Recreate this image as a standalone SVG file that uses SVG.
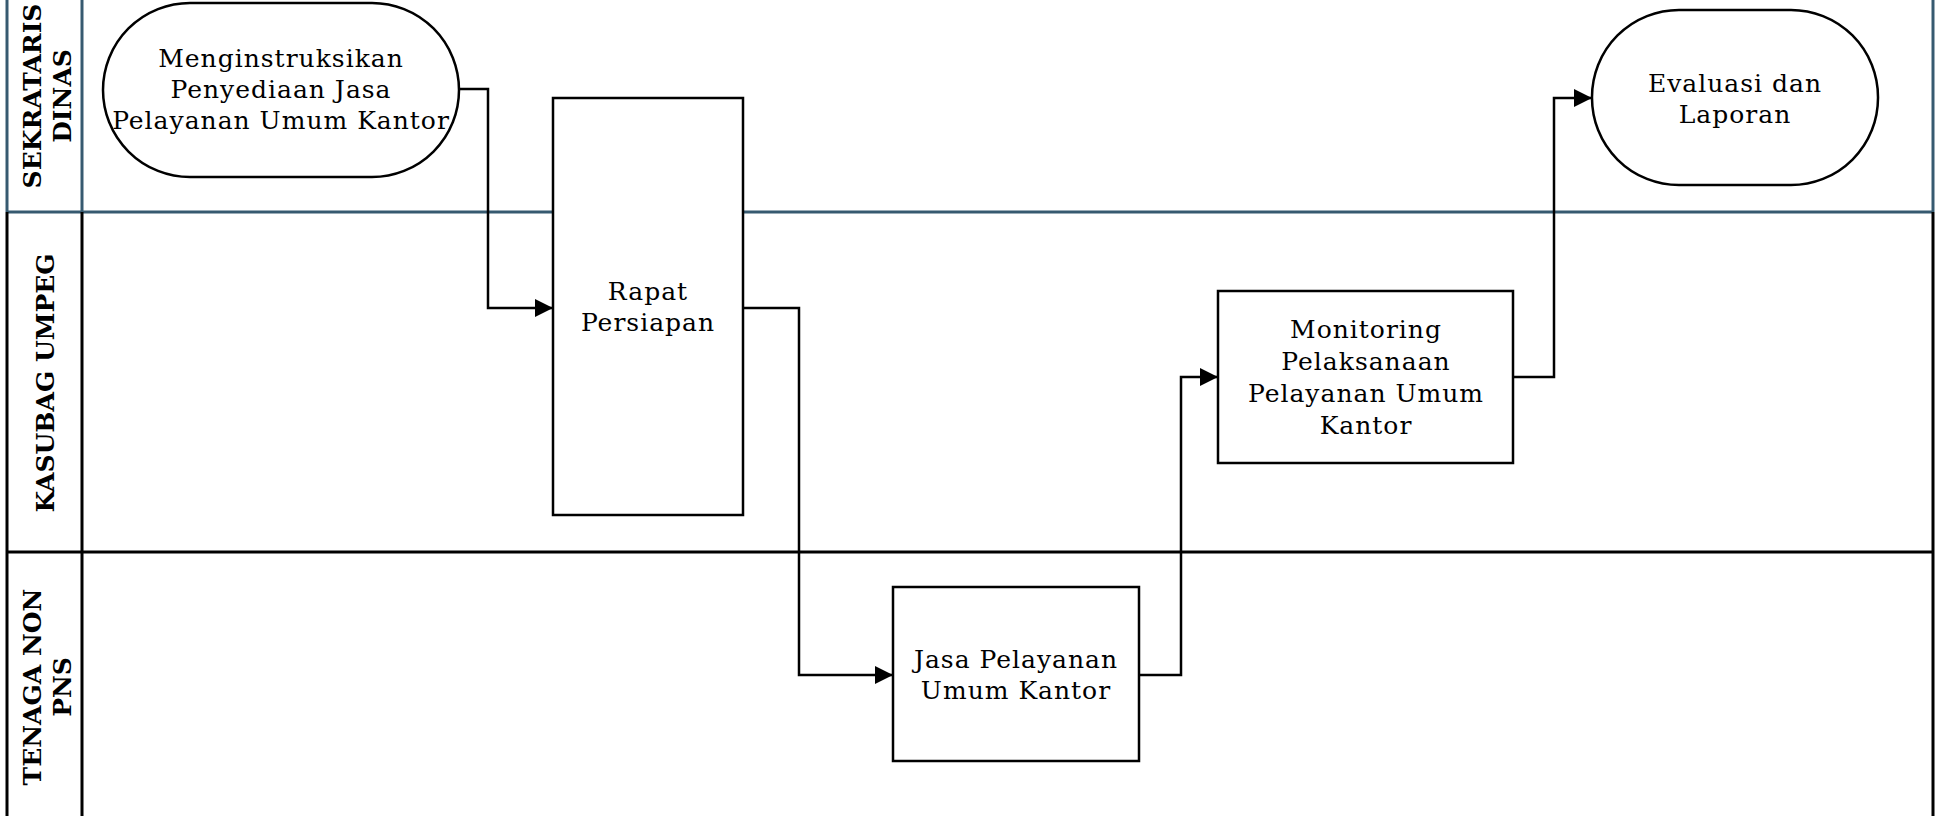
<svg xmlns="http://www.w3.org/2000/svg" width="1943" height="816" viewBox="0 0 1943 816">
<style>
.lane-b{stroke:#375a70;stroke-width:3;fill:none}
.lane-k{stroke:#000;stroke-width:3;fill:none}
.node{fill:#fff;stroke:#000;stroke-width:2.5}
.t{font-family:"DejaVu Serif","Liberation Serif",serif;font-size:25px;letter-spacing:1px;fill:#000;text-anchor:middle}
.lbl{font-family:"DejaVu Serif","Liberation Serif",serif;font-size:25px;font-weight:bold;fill:#000;text-anchor:middle}
.conn{stroke:#000;stroke-width:2.5;fill:none;marker-end:url(#ah)}
</style>
<defs>
<marker id="ah" markerWidth="18" markerHeight="18" refX="18" refY="9" orient="auto" markerUnits="userSpaceOnUse">
<path d="M0,0 L18,9 L0,18 Z" fill="#000"/>
</marker>
</defs>
<rect width="1943" height="816" fill="#fff"/>
<g id="lanes">
<line class="lane-b" x1="7" y1="0" x2="7" y2="212"/>
<line class="lane-b" x1="82" y1="0" x2="82" y2="212"/>
<line class="lane-b" x1="1933" y1="0" x2="1933" y2="212"/>
<line class="lane-b" x1="7" y1="212" x2="1933" y2="212"/>
<line class="lane-k" x1="7" y1="212" x2="7" y2="816"/>
<line class="lane-k" x1="82" y1="212" x2="82" y2="816"/>
<line class="lane-k" x1="1933" y1="212" x2="1933" y2="816"/>
<line class="lane-k" x1="7" y1="552" x2="1933" y2="552"/>
</g>
<g id="lane-labels">
<g transform="translate(45,96) rotate(-90)">
<text class="lbl" x="0" y="-4">SEKRATARIS</text>
<text class="lbl" x="0" y="26">DINAS</text>
</g>
<g transform="translate(45,383) rotate(-90)">
<text class="lbl" x="0" y="9">KASUBAG UMPEG</text>
</g>
<g transform="translate(45,687) rotate(-90)">
<text class="lbl" x="0" y="-4">TENAGA NON</text>
<text class="lbl" x="0" y="26">PNS</text>
</g>
</g>
<g id="connectors">
<path class="conn" d="M459,89 H488 V308 H553"/>
<path class="conn" d="M743,308 H799 V675 H893"/>
<path class="conn" d="M1139,675 H1181 V377 H1218"/>
<path class="conn" d="M1513,377 H1554 V98 H1592"/>
</g>
<g id="n1">
<rect class="node" x="103" y="3" width="356" height="174" rx="87" ry="87"/>
<text class="t" x="281" y="67">Menginstruksikan</text>
<text class="t" x="281" y="98">Penyediaan Jasa</text>
<text class="t" x="281" y="129">Pelayanan Umum Kantor</text>
</g>
<g id="n2">
<rect class="node" x="553" y="98" width="190" height="417"/>
<text class="t" x="648" y="300">Rapat</text>
<text class="t" x="648" y="331">Persiapan</text>
</g>
<g id="n3">
<rect class="node" x="893" y="587" width="246" height="174"/>
<text class="t" x="1016" y="668">Jasa Pelayanan</text>
<text class="t" x="1016" y="699">Umum Kantor</text>
</g>
<g id="n4">
<rect class="node" x="1218" y="291" width="295" height="172"/>
<text class="t" x="1366" y="338">Monitoring</text>
<text class="t" x="1366" y="370">Pelaksanaan</text>
<text class="t" x="1366" y="402">Pelayanan Umum</text>
<text class="t" x="1366" y="434">Kantor</text>
</g>
<g id="n5">
<rect class="node" x="1592" y="10" width="286" height="175" rx="87" ry="87"/>
<text class="t" x="1735" y="92">Evaluasi dan</text>
<text class="t" x="1735" y="123">Laporan</text>
</g>
</svg>
